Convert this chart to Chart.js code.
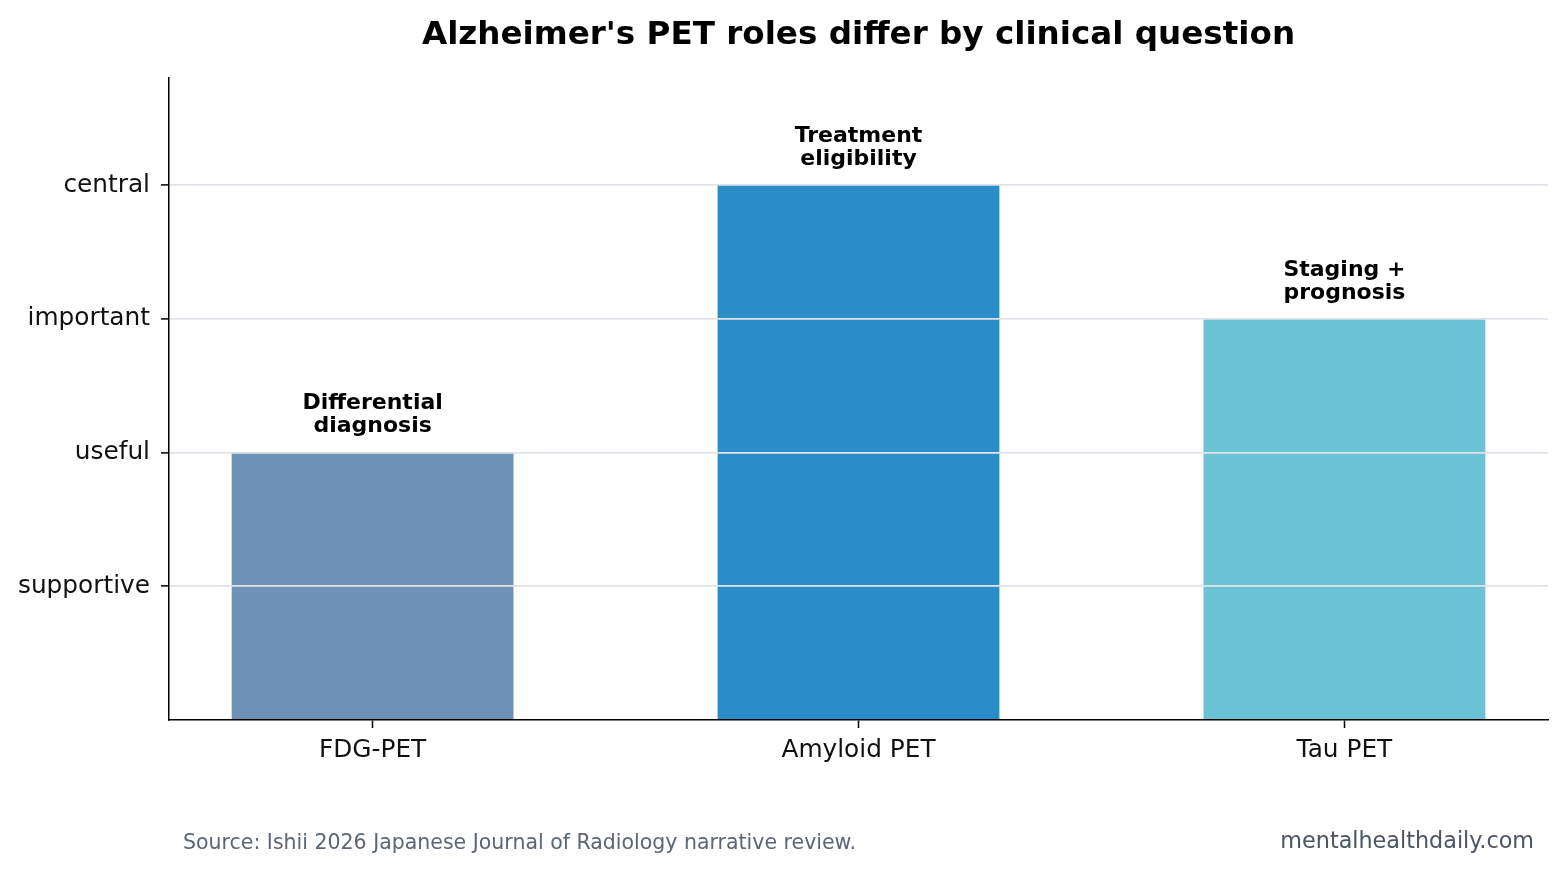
<!DOCTYPE html>
<html>
<head>
<meta charset="utf-8">
<script src="https://cdn.jsdelivr.net/npm/chart.js@4.4.1/dist/chart.umd.min.js"></script>
<style>
  html, body { margin: 0; padding: 0; background: #fff; }
  #wrap { width: 1566px; height: 871px; position: relative; }
</style>
</head>
<body>
<div id="wrap"><canvas id="chart" width="1566" height="871"></canvas></div>
<script>
// Data
const categories = ['FDG-PET', 'Amyloid PET', 'Tau PET'];
const roleScores = [2, 4, 3];
const roleNotes = [['Differential', 'diagnosis'], ['Treatment', 'eligibility'], ['Staging +', 'prognosis']];
const barColors = ['#6e92b6', '#2b8dc7', '#6bc2d5'];
const levelTicks = [1, 2, 3, 4];
const levelLabels = ['supportive', 'useful', 'important', 'central'];

const FONT = "'DejaVu Sans', sans-serif";

// Two-line notes above each bar plus the footer lines
const annotations = {
    id: 'annotations',
    afterDatasetsDraw(chart) {
        const ctx = chart.ctx;
        const xs = chart.scales.x;
        const ys = chart.scales.y;
        ctx.save();
        ctx.fillStyle = '#000';
        ctx.font = `bold 22px ${FONT}`;
        ctx.textAlign = 'center';
        ctx.textBaseline = 'middle';
        roleScores.forEach((v, i) => {
            const x = xs.getPixelForValue(i);
            const top = ys.getPixelForValue(v);
            const lines = roleNotes[i];
            ctx.fillText(lines[0], x, top - 49);
            ctx.fillText(lines[1], x, top - 26);
        });
        ctx.restore();
    },
    afterDraw(chart) {
        const ctx = chart.ctx;
        ctx.save();
        ctx.textBaseline = 'alphabetic';
        ctx.fillStyle = '#5b6676';
        ctx.font = `20.5px ${FONT}`;
        ctx.textAlign = 'left';
        ctx.fillText('Source: Ishii 2026 Japanese Journal of Radiology narrative review.', 183, 849);
        ctx.fillStyle = '#4a5565';
        ctx.font = `22.3px ${FONT}`;
        ctx.textAlign = 'right';
        ctx.fillText('mentalhealthdaily.com', 1534, 848);
        ctx.restore();
    }
};

new Chart(document.getElementById('chart'), {
    type: 'bar',
    data: {
        datasets: [{
            data: categories.map((c, i) => ({ x: i, y: roleScores[i] })),
            backgroundColor: barColors,
            borderWidth: 0,
            categoryPercentage: 1,
            barPercentage: 0.58
        }]
    },
    options: {
        responsive: false,
        animation: false,
        events: [],
        layout: { padding: { left: 0, right: 18, top: 0, bottom: 0 } },
        scales: {
            x: {
                type: 'linear',
                offset: false,
                min: -0.419,
                max: 2.419,
                afterBuildTicks: (s) => { s.ticks = categories.map((c, i) => ({ value: i })); },
                afterFit: (s) => { s.height = 151; },
                border: { display: true, color: '#000', width: 1.5, z: 2 },
                grid: { offset: false, drawOnChartArea: false, tickColor: '#000', tickLength: 8, tickWidth: 1.5 },
                ticks: {
                    color: '#111',
                    font: { family: FONT, size: 24.8 },
                    padding: 8,
                    maxRotation: 0,
                    autoSkip: false,
                    callback: (v) => categories[v] ?? ''
                }
            },
            y: {
                min: 0,
                max: 4.8,
                afterBuildTicks: (s) => { s.ticks = levelTicks.map(v => ({ value: v })); },
                afterFit: (s) => { s.width = 169; },
                border: { display: true, color: '#000', width: 1.5, z: 2 },
                grid: { z: 1, color: '#dfe3e9', lineWidth: 1.8, tickColor: '#000', tickLength: 8, tickWidth: 1.5 },
                ticks: {
                    color: '#111',
                    font: { family: FONT, size: 24.8 },
                    padding: 11,
                    autoSkip: false,
                    callback: (v) => levelLabels[levelTicks.indexOf(v)] ?? ''
                }
            }
        },
        plugins: {
            legend: { display: false },
            tooltip: { enabled: false },
            title: {
                display: true,
                fullSize: false,
                text: "Alzheimer's PET roles differ by clinical question",
                color: '#000',
                font: { family: FONT, size: 32.6, weight: 'bold' },
                padding: { top: 16, bottom: 23 }
            }
        }
    },
    plugins: [annotations]
});
</script>
</body>
</html>
